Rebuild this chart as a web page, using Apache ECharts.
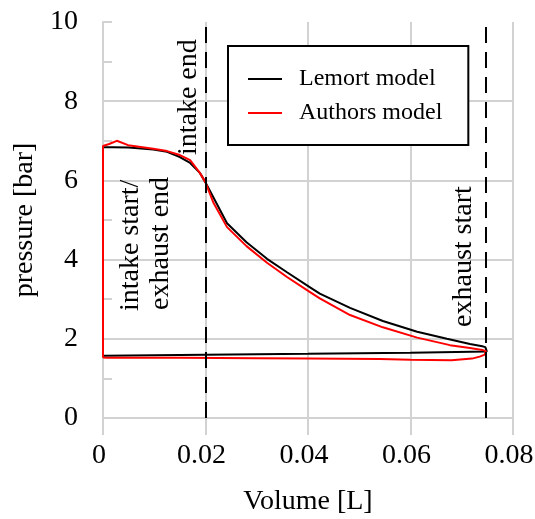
<!DOCTYPE html>
<html>
<head>
<meta charset="utf-8">
<script src="https://cdn.jsdelivr.net/npm/echarts@6/dist/echarts.min.js"></script>
<style>
  html, body { margin: 0; padding: 0; background: #fff; }
  #chart { width: 535px; height: 519px; }
</style>
</head>
<body>
<div id="chart"></div>
<script>
// p-V loop of the expander: volume [L], pressure [bar], in cycle order
const lemortVolume = [0, 0, 0.002, 0.005, 0.0098, 0.0125, 0.015, 0.017, 0.0189, 0.02, 0.0215, 0.0242,
  0.028, 0.032, 0.0359, 0.0404, 0.0423, 0.0482, 0.0546, 0.0613, 0.0671, 0.0716, 0.074, 0.0746,
  0.0749, 0.0749, 0.06, 0.04, 0.02, 0.005, 0.0005, 0];
const lemortPressure = [1.57, 6.84, 6.84, 6.83, 6.78, 6.72, 6.59, 6.44, 6.19, 5.95, 5.58, 4.92,
  4.44, 4.02, 3.68, 3.3, 3.14, 2.78, 2.45, 2.18, 2.0, 1.87, 1.81, 1.79,
  1.74, 1.68, 1.65, 1.62, 1.6, 1.58, 1.57, 1.57];

const authorsVolume = [0, 0, 0.0012, 0.0027, 0.0049, 0.0098, 0.0125, 0.015, 0.017, 0.0189, 0.02, 0.0215,
  0.0242, 0.028, 0.032, 0.0359, 0.0404, 0.0423, 0.0482, 0.0546, 0.0613, 0.0677, 0.0716, 0.074,
  0.0747, 0.0749, 0.0745, 0.0735, 0.072, 0.068, 0.06, 0.054, 0.04, 0.03, 0.015, 0.003, 0.0008, 0];
const authorsPressure = [1.52, 6.87, 6.92, 7.0, 6.89, 6.8, 6.74, 6.64, 6.51, 6.19, 5.95, 5.45,
  4.82, 4.34, 3.92, 3.56, 3.18, 3.02, 2.6, 2.29, 2.03, 1.84, 1.77, 1.72,
  1.69, 1.67, 1.6, 1.55, 1.5, 1.46, 1.47, 1.49, 1.5, 1.51, 1.52, 1.52, 1.52, 1.53];

// valve timing events (volume)
const eventVolumes = [0.02, 0.0747];
const eventNotes = ['intake start/', 'exhaust end', 'intake end', 'exhaust start'];

const seriesNames = ['Lemort model', 'Authors model'];

const FONT = '"Liberation Serif", "Times New Roman", serif';
const GRID_GREY = '#d2d2d2';

const pairs = (xs, ys) => xs.map((x, i) => [x, ys[i]]);

const chart = echarts.init(document.getElementById('chart'), null, { renderer: 'canvas' });

chart.setOption({
  animation: false,
  backgroundColor: '#fff',
  textStyle: { fontFamily: FONT },
  grid: { left: 103, right: 22, top: 22, bottom: 101, containLabel: false, outerBoundsMode: 'none' },
  legend: {
    data: seriesNames,
    orient: 'vertical',
    left: 228,
    top: 46,
    padding: [18, 26, 17, 20],
    icon: 'rect',
    itemWidth: 34,
    itemHeight: 2,
    itemGap: 4,
    borderColor: '#000',
    borderWidth: 2,
    backgroundColor: '#fff',
    textStyle: { fontFamily: FONT, fontSize: 24, color: '#000', lineHeight: 30, padding: [0, 0, 0, 12] }
  },
  xAxis: {
    type: 'value',
    min: 0,
    max: 0.08,
    interval: 0.02,
    name: 'Volume [L]',
    nameLocation: 'middle',
    nameGap: 70,
    nameTextStyle: { fontFamily: FONT, fontSize: 28, color: '#000' },
    axisLine: { show: true, lineStyle: { color: GRID_GREY, width: 2 } },
    axisTick: { show: true, inside: false, length: 17, lineStyle: { color: GRID_GREY, width: 2 } },
    axisLabel: { fontFamily: FONT, fontSize: 28, color: '#000', margin: 24, padding: [0, 8, 0, 0] },
    splitLine: { show: true, lineStyle: { color: GRID_GREY, width: 2 } }
  },
  yAxis: {
    type: 'value',
    min: 0,
    max: 10,
    interval: 2,
    name: 'pressure [bar]',
    nameLocation: 'middle',
    nameGap: 56,
    nameTextStyle: { fontFamily: FONT, fontSize: 28, color: '#000' },
    axisLine: { show: true, lineStyle: { color: GRID_GREY, width: 2 } },
    axisTick: { show: true, inside: true, length: 9, lineStyle: { color: GRID_GREY, width: 2 } },
    minorTick: { show: true, splitNumber: 2, length: 9, lineStyle: { color: GRID_GREY, width: 2 } },
    axisLabel: { fontFamily: FONT, fontSize: 28, color: '#000', margin: 25 },
    splitLine: { show: true, showMaxLine: false, lineStyle: { color: GRID_GREY, width: 2 } }
  },
  series: [
    {
      name: seriesNames[0],
      type: 'line',
      data: pairs(lemortVolume, lemortPressure),
      symbol: 'none',
      showSymbol: false,
      lineStyle: { color: '#000', width: 2 },
      itemStyle: { color: '#000' },
      z: 2,
      markLine: {
        silent: true,
        precision: 4,
        symbol: ['none', 'none'],
        label: { show: false },
        lineStyle: { color: '#000', width: 2, type: [16, 9] },
        data: eventVolumes.map(v => ({ xAxis: v }))
      }
    },
    {
      name: seriesNames[1],
      type: 'line',
      data: pairs(authorsVolume, authorsPressure),
      symbol: 'none',
      showSymbol: false,
      lineStyle: { color: '#ff0000', width: 2 },
      itemStyle: { color: '#ff0000' },
      z: 3
    }
  ]
});

// vertical event notes, anchored in data coordinates at the start of each text
const noteAnchors = [[0.00546, 2.70], [0.01132, 2.73], [0.01678, 6.64], [0.07044, 2.30]];
chart.setOption({
  graphic: eventNotes.map((text, i) => {
    const [px, py] = chart.convertToPixel({ gridIndex: 0 }, noteAnchors[i]);
    return {
      type: 'text',
      x: px,
      y: py,
      rotation: Math.PI / 2,
      z: 10,
      silent: true,
      style: {
        text: text,
        font: '28px ' + FONT,
        fill: '#000',
        align: 'left',
        verticalAlign: 'middle',
        textAlign: 'left',
        textVerticalAlign: 'middle'
      }
    };
  })
});
</script>
</body>
</html>
